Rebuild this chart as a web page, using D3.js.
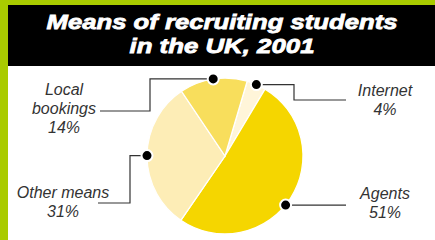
<!DOCTYPE html>
<html>
<head>
<meta charset="utf-8">
<script src="https://cdn.jsdelivr.net/npm/d3@7"></script>
<style>
  body { margin: 0; background: #fff; }
  svg { display: block; }
</style>
</head>
<body>
<div id="chart"></div>
<script>
// data
var categories = ['Internet', 'Agents', 'Other means', 'Local bookings']
var shares = [4, 51, 31, 14]
var labelLines = [['Internet'], ['Agents'], ['Other means'], ['Local', 'bookings']]
var titleLines = ['Means of recruiting students', 'in the UK, 2001']

var width = 435
var height = 240
var cx = 225
var cy = 156
var radius = 78

var colorScale = d3
  .scaleOrdinal()
  .domain(categories)
  .range(['#fff5d9', '#f5d600', '#fdedb6', '#f8de5c'])

// leader layout: elbow x, end y, end x, text x, first baseline
var layout = {
  'Internet': { dotAngle: null, elbowX: 294, endY: 100, endX: 346, textX: 385, textY: 96 },
  'Agents': { dotAngle: 129, elbowX: null, endY: null, endX: 346, textX: 385, textY: 199 },
  'Other means': { dotAngle: null, elbowX: 130, endY: 203, endX: 98, textX: 63, textY: 198 },
  'Local bookings': { dotAngle: null, elbowX: 150, endY: 111, endX: 100, textX: 64, textY: 95 }
}

var svg = d3
  .select('#chart')
  .append('svg')
  .attr('width', width)
  .attr('height', height)

// frame: green edge + black title bar
svg.append('rect')
  .attr('x', 0).attr('y', 0)
  .attr('width', width).attr('height', 5)
  .attr('fill', '#a9cb00')
svg.append('rect')
  .attr('x', 0).attr('y', 0)
  .attr('width', 8).attr('height', height)
  .attr('fill', '#a9cb00')
svg.append('rect')
  .attr('x', 8).attr('y', 5)
  .attr('width', width - 8).attr('height', 61)
  .attr('fill', '#000')

// title is a heavy extended face; stretch and thicken a bold italic
var titleWidths = [351, 185]
svg.append('g')
  .selectAll('text')
  .data(titleLines)
  .enter()
  .append('text')
  .text(d => d)
  .attr('x', 222)
  .attr('y', (d, i) => 29 + i * 24)
  .attr('text-anchor', 'middle')
  .attr('textLength', (d, i) => titleWidths[i])
  .attr('lengthAdjust', 'spacingAndGlyphs')
  .attr('fill', '#fff')
  .attr('stroke', '#fff')
  .attr('stroke-width', 0.8)
  .attr('font-family', 'Liberation Sans, Arial, sans-serif')
  .attr('font-weight', 'bold')
  .attr('font-style', 'italic')
  .attr('font-size', 21)

var data = categories.map((c, i) => ({ name: c, value: shares[i], lines: labelLines[i] }))

var pie = d3
  .pie()
  .sort(null)
  .value(d => d.value)
  .startAngle(16.5 * Math.PI / 180)
  .endAngle(16.5 * Math.PI / 180 + 2 * Math.PI)

var arc = d3.arc().innerRadius(0).outerRadius(radius)

var holder = svg.append('g').attr('transform', `translate(${cx},${cy})`)

holder
  .selectAll('path')
  .data(pie(data))
  .enter()
  .append('path')
  .attr('d', arc)
  .attr('fill', d => colorScale(d.data.name))
  .attr('stroke', '#fff')
  .attr('stroke-width', 1.3)

// leaders + labels
pie(data).forEach(d => {
  var lay = layout[d.data.name]
  var angle = lay.dotAngle !== null ? lay.dotAngle * Math.PI / 180 : (d.startAngle + d.endAngle) / 2
  var dx = cx + radius * Math.sin(angle)
  var dy = cy - radius * Math.cos(angle)

  var pts = [[dx, dy]]
  if (lay.elbowX !== null) {
    pts.push([lay.elbowX, dy])
    pts.push([lay.elbowX, lay.endY])
    pts.push([lay.endX, lay.endY])
  } else {
    pts.push([lay.endX, dy])
  }

  svg.append('path')
    .attr('d', d3.line()(pts))
    .attr('fill', 'none')
    .attr('stroke', '#333')
    .attr('stroke-width', 1.2)

  svg.append('circle')
    .attr('cx', dx)
    .attr('cy', dy)
    .attr('r', 5.5)
    .attr('fill', '#000')
    .attr('stroke', '#fff')
    .attr('stroke-width', 2)

  var lines = d.data.lines.concat([d.data.value + '%'])
  svg.append('g')
    .selectAll('text')
    .data(lines)
    .enter()
    .append('text')
    .text(t => t)
    .attr('x', lay.textX)
    .attr('y', (t, i) => lay.textY + i * 19)
    .attr('text-anchor', 'middle')
    .attr('fill', '#333')
    .attr('font-family', 'Liberation Sans, Arial, sans-serif')
    .attr('font-style', 'italic')
    .attr('font-size', 16)
})
</script>
</body>
</html>
